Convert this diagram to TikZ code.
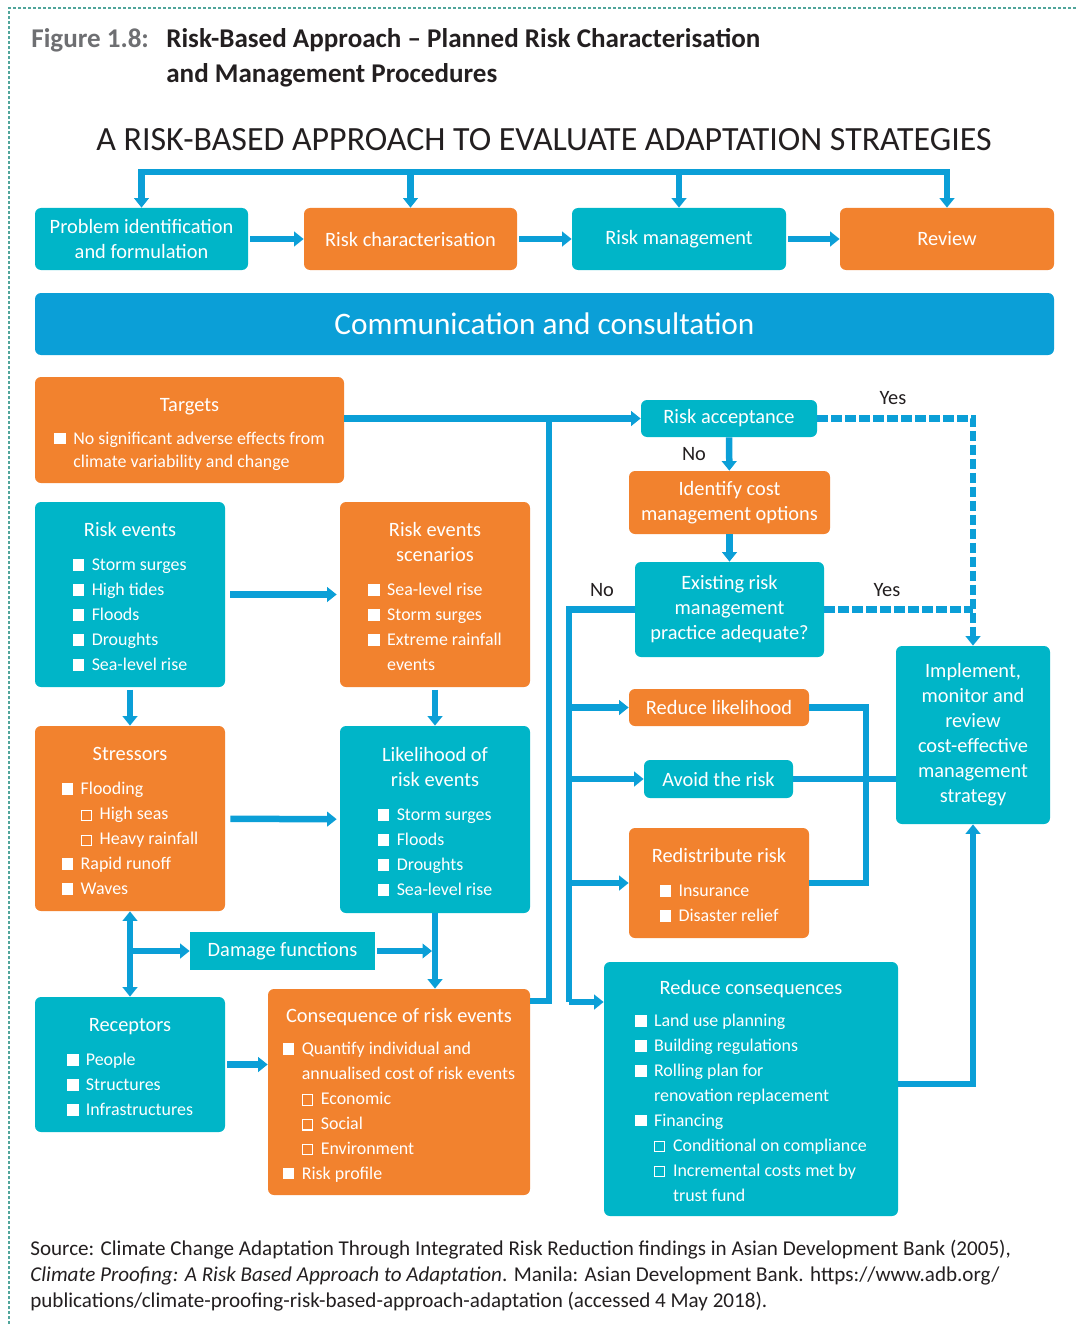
\documentclass[tikz,border=0pt]{standalone}
\usepackage{fontspec}
\setmainfont{Carlito}
\usetikzlibrary{arrows.meta}

\definecolor{boxteal}{RGB}{0,181,200}
\definecolor{boxorange}{RGB}{242,130,46}
\definecolor{linkblue}{RGB}{11,159,215}
\definecolor{frameteal}{RGB}{80,165,155}
\definecolor{inkdark}{RGB}{35,31,32}
\definecolor{figgray}{RGB}{110,111,114}

\newcommand{\bxfont}{\fontsize{11.6}{14.2}\selectfont}
\newcommand{\lsfont}{\fontsize{10.2}{14.2}\selectfont}
\newcommand{\tstrut}{\rule{0pt}{14.5pt}}
\newcommand{\fb}{\makebox[10.8pt][l]{\rule{6.6pt}{6.6pt}}}
\newcommand{\hb}{\makebox[10.8pt][l]{\setlength{\fboxsep}{0pt}\setlength{\fboxrule}{0.6pt}\fbox{\rule{0pt}{5.2pt}\rule{5.2pt}{0pt}}}}
\newcommand{\ind}{\hspace*{10.8pt}}
\newcommand{\blist}[1]{{\lsfont\begin{tabular}[t]{@{}l@{}}#1\end{tabular}}}

\begin{document}
\begin{tikzpicture}[
        x=0.2mm, y=-0.2mm,
        boxbase/.style={rounded corners=1.2mm, text=white, align=center, inner sep=0pt, font=\bxfont},
        tbox/.style={boxbase, fill=boxteal},
        obox/.style={boxbase, fill=boxorange},
        wh/.style 2 args={minimum width=#1*0.2mm, minimum height=#2*0.2mm},
        link/.style={draw=linkblue, line width=1.3mm},
        dlink/.style={link, dash pattern=on 2.1mm off 0.7mm},
        headed/.style={-{Triangle[width=2.9mm,length=1.9mm]}},
        dheaded/.style={{Triangle[width=2.9mm,length=1.9mm]}-{Triangle[width=2.9mm,length=1.9mm]}},
        lbl/.style={text=inkdark, font=\fontsize{11.6}{14}\selectfont}
    ]
        \useasboundingbox (0,0) rectangle (1077,1324);
        \draw[frameteal, line width=0.25mm, dash pattern=on 0.6mm off 0.4mm] (9,1324) -- (9,8) -- (1077,8);

        % heading
        \node[anchor=north west, inner sep=0pt, font=\fontsize{15.4}{19.8}\selectfont\bfseries, text=figgray] (figno) at (31,28) {Figure 1.8:};
        \node[anchor=north west, inner sep=0pt, align=left, font=\fontsize{15.4}{19.8}\selectfont\bfseries, text=inkdark] (ftitle) at (166,28) {Risk-Based Approach -- Planned Risk Characterisation\\and Management Procedures};
        \node[inner sep=0pt, font=\fontsize{19.3}{22}\selectfont, text=inkdark] (head) at (544,140) {A RISK-BASED APPROACH TO EVALUATE ADAPTATION STRATEGIES};

        % process row
        \node[tbox, wh={213}{62}] (prob) at (141.5,239) {Problem identification\\and formulation};
        \node[obox, wh={213}{62}] (rchar) at (410.5,239) {Risk characterisation};
        \node[tbox, wh={214}{62}] (rmgmt) at (679,239) {Risk management};
        \node[obox, wh={214}{62}] (review) at (947,239) {Review};
        \node[boxbase, fill=linkblue, wh={1019}{62}, font=\fontsize{17.8}{20}\selectfont] (comm) at (544.5,324) {Communication and consultation};

        \coordinate (bar) at (0,172);
        \draw[link, line cap=rect] (prob.north |- bar) -- (review.north |- bar);
        \foreach \n in {prob,rchar,rmgmt,review}
            \draw[link, headed] (\n.north |- bar) -- (\n.north);
        \draw[link, headed, shorten <=0.4mm] (prob) -- (rchar);
        \draw[link, headed, shorten <=0.4mm] (rchar) -- (rmgmt);
        \draw[link, headed, shorten <=0.4mm] (rmgmt) -- (review);

        % characterisation
        \node[obox, wh={309}{106}] (targets) at (189.5,430) {\tstrut Targets\\[4.5pt]{\renewcommand{\arraystretch}{0.92}\blist{\fb No significant adverse effects from\\ \ind climate variability and change}}};
        \node[tbox, wh={190}{185}] (revents) at (130,594.5) {\tstrut Risk events\\[5.6pt]\blist{\fb Storm surges\\ \fb High tides\\ \fb Floods\\ \fb Droughts\\ \fb Sea-level rise}};
        \node[obox, wh={190}{185}] (scen) at (435,594.5) {\tstrut Risk events\\scenarios\\[5.6pt]\blist{\fb Sea-level rise\\ \fb Storm surges\\ \fb Extreme rainfall\\ \ind events}};
        \node[obox, wh={190}{185}] (stress) at (130,818.5) {\tstrut Stressors\\[5.6pt]\blist{\fb Flooding\\ \ind\hb High seas\\ \ind\hb Heavy rainfall\\ \fb Rapid runoff\\ \fb Waves}};
        \node[tbox, wh={190}{187}] (likeli) at (435,819.5) {\tstrut Likelihood of\\risk events\\[5.6pt]\blist{\fb Storm surges\\ \fb Floods\\ \fb Droughts\\ \fb Sea-level rise}};
        \node[tbox, sharp corners, wh={185}{38}] (damage) at (282.5,951) {Damage functions};
        \node[tbox, wh={190}{135}] (recept) at (130,1064.5) {\tstrut Receptors\\[5.6pt]\blist{\fb People\\ \fb Structures\\ \fb Infrastructures}};
        \node[obox, wh={262}{206}] (conseq) at (399,1092) {\tstrut Consequence of risk events\\[4pt]\blist{\fb Quantify individual and\\ \ind annualised cost of risk events\\ \ind\hb Economic\\ \ind\hb Social\\ \ind\hb Environment\\ \fb Risk profile}};

        \draw[link, headed, shorten <=1mm, shorten >=0.6mm] (revents) -- (scen);
        \draw[link, headed, shorten <=0.5mm] (revents) -- (stress);
        \draw[link, headed, shorten <=0.5mm] (scen) -- (likeli);
        \draw[link, headed, shorten <=1mm, shorten >=0.6mm] (stress) -- (likeli);
        \draw[link, dheaded] (stress) -- (recept);
        \draw[link, headed] (stress.south |- damage.west) -- (damage.west);
        \draw[link, headed, shorten <=0.4mm, shorten >=0.6mm] (damage.east) -- (damage.east -| likeli.south);
        \draw[link, headed] (likeli.south) -- (likeli.south |- conseq.north);
        \draw[link, headed, shorten <=0.4mm] (recept.east) -- (recept.east -| conseq.west);

        % management
        \node[tbox, wh={176}{37}] (accept) at (729,418.5) {Risk acceptance};
        \node[obox, wh={201}{63}] (ident) at (729.5,502.5) {Identify cost\\management options};
        \node[tbox, wh={189}{95}] (exist) at (729.5,609.5) {Existing risk\\management\\practice adequate?};
        \node[obox, wh={180}{37}] (redlik) at (719,707.5) {Reduce likelihood};
        \node[tbox, wh={149}{38}] (avoid) at (718.5,779) {Avoid the risk};
        \node[obox, wh={180}{110}] (redist) at (719,883) {\tstrut Redistribute risk\\[5.6pt]\blist{\fb Insurance\\ \fb Disaster relief}};
        \node[tbox, wh={154}{178}] (impl) at (973,735) {Implement,\\monitor and\\review\\cost-effective\\management\\strategy};
        \node[tbox, wh={294}{254}] (redcons) at (751,1089) {\tstrut Reduce consequences\\[4pt]\blist{\fb Land use planning\\ \fb Building regulations\\ \fb Rolling plan for\\ \ind renovation replacement\\ \fb Financing\\ \ind\hb Conditional on compliance\\ \ind\hb Incremental costs met by\\ \ind\ind trust fund}};

        \coordinate (trunk) at (549,1001);
        \draw[link, headed] (targets.east |- accept.west) -- (accept.west);
        \draw[link] (conseq.east |- trunk) -- (trunk) -- (trunk |- accept.west);

        \draw[dlink, headed] (accept.east) -| (impl.north);
        \draw[dlink] (exist.east) -- (exist.east -| impl.north);
        \node[lbl] (yes1) at (893,398) {Yes};
        \node[lbl] (yes2) at (887,590) {Yes};

        \draw[link, headed] (accept) -- (ident);
        \draw[link, headed] (ident) -- (exist);
        \node[lbl] (no1) at (694,454) {No};
        \node[lbl] (no2) at (602,590) {No};

        \coordinate (nobot) at (569,1002);
        \draw[link] (exist.west) -| (nobot);
        \draw[link, headed] (nobot |- redlik.west) -- (redlik.west);
        \draw[link, headed] (nobot |- avoid.west) -- (avoid.west);
        \draw[link, headed] (nobot |- redist.west) -- (redist.west);
        \draw[link, headed] (nobot) -- (nobot -| redcons.west);

        \coordinate (rjoin) at (866,0);
        \draw[link] (redlik.east) -- (redlik.east -| rjoin) -- (redist.east -| rjoin) -- (redist.east);
        \draw[link] (avoid.east) -- (avoid.east -| impl.west);
        \draw[link, headed] (redcons.east |- 0,1084) -| (impl.south);

        % source
        \node[anchor=north west, inner sep=0pt, align=left, text=inkdark, font=\fontsize{12}{14.7}\selectfont] (source) at (30,1240) {Source: Climate Change Adaptation Through Integrated Risk Reduction findings in Asian Development Bank (2005),\\\textit{Climate Proofing: A Risk Based Approach to Adaptation}. Manila: Asian Development Bank. https://www.adb.org/\\publications/climate-proofing-risk-based-approach-adaptation (accessed 4 May 2018).};
    \end{tikzpicture}
\end{document}
